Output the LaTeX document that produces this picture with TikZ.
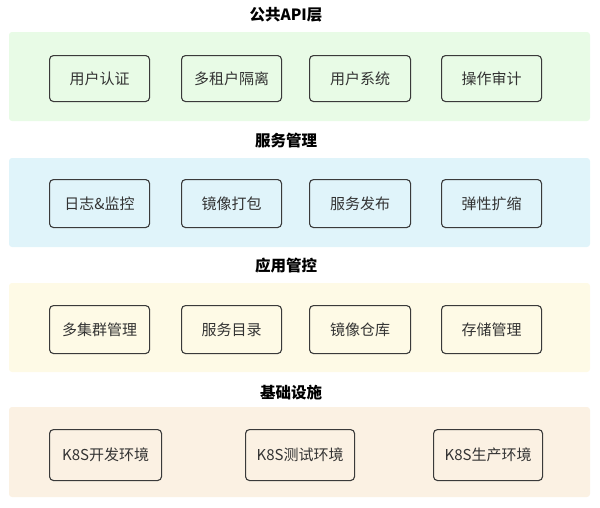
\documentclass[tikz,border=0pt]{standalone}
\usepackage{fontspec}
\setmainfont{Noto Sans CJK SC}
\definecolor{bgreen}{HTML}{E8FBE6}
\definecolor{bblue}{HTML}{E0F4FA}
\definecolor{byellow}{HTML}{FEFAE6}
\definecolor{bpeach}{HTML}{FBF1E3}
\definecolor{boxline}{HTML}{3A3A3A}
\definecolor{txt}{HTML}{333333}
\tikzset{
  band/.style={draw=none, rounded corners=3pt},
  item/.style={draw=boxline, line width=1.1pt, rounded corners=4pt, text=txt,
    font=\fontsize{15}{17}\selectfont, inner sep=0pt, anchor=north west},
  ttl/.style={font=\fontsize{15.5}{18}\selectfont\bfseries, text=black}
}
\begin{document}
\begin{tikzpicture}[x=1pt,y=-1pt]
\useasboundingbox (0,0) rectangle (600,507);
% layer 1
\node[ttl] (t1) at (286,15) {公共API层};
\fill[bgreen,band] (9,32) rectangle (590,121);
\node[item, minimum width=100pt, minimum height=46pt] (a1) at (49,55) {用户认证};
\node[item, minimum width=100pt, minimum height=46pt] (a2) at (181,55) {多租户隔离};
\node[item, minimum width=101pt, minimum height=46pt] (a3) at (309,55) {用户系统};
\node[item, minimum width=100pt, minimum height=46pt] (a4) at (441,55) {操作审计};
% layer 2
\node[ttl] (t2) at (286,141) {服务管理};
\fill[bblue,band] (9,158) rectangle (590,247);
\node[item, minimum width=100pt, minimum height=48pt] (b1) at (49,179) {日志\&监控};
\node[item, minimum width=100pt, minimum height=48pt] (b2) at (181,179) {镜像打包};
\node[item, minimum width=101pt, minimum height=48pt] (b3) at (309,179) {服务发布};
\node[item, minimum width=100pt, minimum height=48pt] (b4) at (441,179) {弹性扩缩};
% layer 3
\node[ttl] (t3) at (286,266) {应用管控};
\fill[byellow,band] (9,283) rectangle (590,372);
\node[item, minimum width=100pt, minimum height=48pt] (c1) at (49,305) {多集群管理};
\node[item, minimum width=100pt, minimum height=48pt] (c2) at (181,305) {服务目录};
\node[item, minimum width=101pt, minimum height=48pt] (c3) at (309,305) {镜像仓库};
\node[item, minimum width=100pt, minimum height=48pt] (c4) at (441,305) {存储管理};
% layer 4
\node[ttl] (t4) at (291,393) {基础设施};
\fill[bpeach,band] (9,407) rectangle (590,497);
\node[item, minimum width=112pt, minimum height=51pt] (d1) at (49,429) {K8S开发环境};
\node[item, minimum width=109pt, minimum height=51pt] (d2) at (245,429) {K8S测试环境};
\node[item, minimum width=109pt, minimum height=51pt] (d3) at (433,429) {K8S生产环境};
\end{tikzpicture}
\end{document}
